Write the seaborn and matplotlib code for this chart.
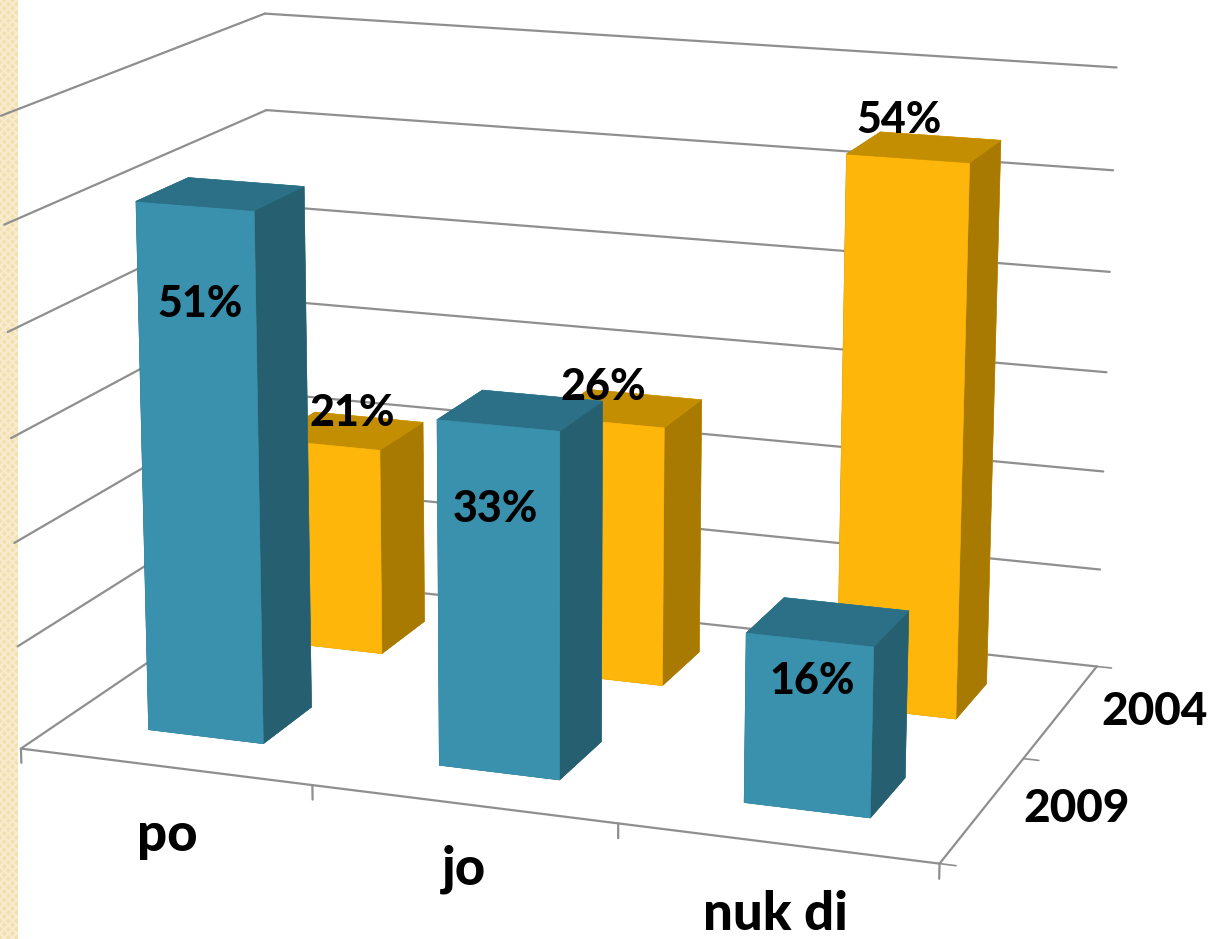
# 3D column chart: po / jo / nuk di, 2009 in front of 2004
import numpy as np
import pandas as pd
import matplotlib
matplotlib.use("Agg")
import matplotlib.pyplot as plt
from matplotlib.patches import Rectangle
from mpl_toolkits.mplot3d import proj3d
import seaborn as sns

# -----------------------------
# Data
# -----------------------------
categories = ["po", "jo", "nuk di"]
years = ["2009", "2004"]
values_2009 = [51, 33, 16]
values_2004 = [21, 26, 54]
grid_levels = [0, 10, 20, 30, 40, 50, 60]

df = pd.DataFrame({"answer": categories, "2009": values_2009, "2004": values_2004})

# -----------------------------
# Style
# -----------------------------
sns.set_theme(style="white")
plt.rcParams["font.family"] = ["Lato", "DejaVu Sans"]
plt.rcParams["hatch.linewidth"] = 1.6

grid_color = "#8F8F8F"
# faces of bar3d: bottom, top, front, back, left, right
blue = sns.color_palette(["#2B7086", "#2B7086", "#3A91AD", "#3A91AD", "#265F70", "#265F70"])
yellow = sns.color_palette(["#C48E02", "#C48E02", "#FFB60B", "#FFB60B", "#A87A02", "#A87A02"])

bar_w, bar_d = 0.4002, 0.3894
row_y = {"2009": 0.5025, "2004": 1.4981}

# -----------------------------
# Figure and camera
# -----------------------------
fig = plt.figure(figsize=(12.2, 9.39), dpi=100, facecolor="white")
fig.add_artist(Rectangle((0, 0), 18 / 1220, 1, transform=fig.transFigure,
                         facecolor="#F2DFB2", edgecolor="#F8ECCD", hatch="xxxx",
                         linewidth=0, zorder=-1))

ax = fig.add_axes([-0.05743, -0.11731, 1.02946, 1.33753], projection="3d")
ax.patch.set_alpha(0)
ax.set_xlim(0, 3, view_margin=0)
ax.set_ylim(0, 2, view_margin=0)
ax.set_zlim(0, 60, view_margin=0)
ax.view_init(14.6052, -70.1809, -0.0945)
ax.set_proj_type("persp", focal_length=0.6508)
ax.set_box_aspect((3.5573, 2.3624, 2.4095))
ax.computed_zorder = False
ax.set_axis_off()

# -----------------------------
# Walls, floor and ticks
# -----------------------------
for z in grid_levels:
    ax.plot([0, 3], [2, 2], [z, z], color=grid_color, lw=1.6, zorder=1)
    ax.plot([0, 0], [0, 2], [z, z], color=grid_color, lw=1.6, zorder=1)
ax.plot([0, 3], [0, 0], [0, 0], color=grid_color, lw=1.6, zorder=1)
ax.plot([3, 3], [0, 2], [0, 0], color=grid_color, lw=1.6, zorder=1)
for x in range(len(categories) + 1):
    ax.plot([x, x], [0, 0], [0, -1.4], color=grid_color, lw=1.6, zorder=1)
for y in range(len(years) + 1):
    ax.plot([3, 3.05], [y, y], [0, 0], color=grid_color, lw=1.2, zorder=1)

# -----------------------------
# Bars, back row first
# -----------------------------
for year, colors, order in [("2004", yellow, 3), ("2009", blue, 4)]:
    for i, v in enumerate(df[year]):
        ax.bar3d(i + 0.5 - bar_w / 2, row_y[year] - bar_d / 2, 0, bar_w, bar_d, v,
                 color=colors, edgecolor=colors, linewidth=0.4, shade=False, zorder=order)

# -----------------------------
# Value labels (projected so they stay plain 2D text)
# -----------------------------
label_rise = {"2009": [-9.2, -7.8, -3.8], "2004": [3.5, 3.5, 3.6]}
label_shift = {"2009": [0.01, -0.01, 0.01], "2004": [0.10, -0.01, -0.03]}
proj = ax.get_proj()
for year in years:
    for i, v in enumerate(df[year]):
        x2, y2, _ = proj3d.proj_transform(i + 0.5 + label_shift[year][i], row_y[year] - bar_d / 2,
                                          v + label_rise[year][i], proj)
        ax.text2D(x2, y2, f"{v}%", transform=ax.transData, fontsize=31, fontweight="black",
                  color="black", ha="center", va="center", zorder=10)

# -----------------------------
# Axis labels
# -----------------------------
label_kw = dict(fontweight="black", color="black", ha="center", va="baseline")
for name, (px, py) in zip(categories, [(167, 851), (464, 885), (775, 930)]):
    fig.text(px / 1220, 1 - py / 939, name, fontsize=38, **label_kw)
for name, (px, py) in zip(years, [(1077, 822), (1155, 725)]):
    fig.text(px / 1220, 1 - py / 939, name, fontsize=33, **label_kw)

fig.savefig("out.png", dpi=100)
